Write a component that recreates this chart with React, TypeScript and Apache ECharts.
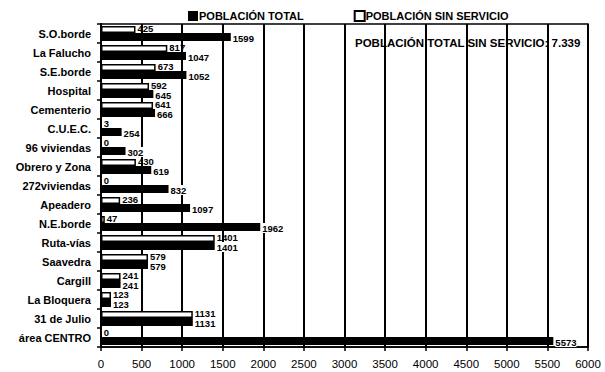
import React, { useEffect, useRef } from "react";
import * as echarts from "echarts";

const categories = [
  "S.O.borde", "La Falucho", "S.E.borde", "Hospital", "Cementerio", "C.U.E.C.",
  "96 viviendas", "Obrero y Zona", "272viviendas", "Apeadero", "N.E.borde",
  "Ruta-vías", "Saavedra", "Cargill", "La Bloquera", "31 de Julio", "área CENTRO",
];
const sinServicio = [425, 817, 673, 592, 641, 3, 0, 430, 0, 236, 47, 1401, 579, 241, 123, 1131, 0];
const total = [1599, 1047, 1052, 645, 666, 254, 302, 619, 832, 1097, 1962, 1401, 579, 241, 123, 1131, 5573];
const xTicks = { min: 0, max: 6000, interval: 500 };
const note = "POBLACIÓN TOTAL SIN SERVICIO: 7.339";

export default function App() {
  const ref = useRef<HTMLDivElement>(null);
  useEffect(() => {
    if (!ref.current) return;
    const chart = echarts.init(ref.current, null, { renderer: "svg" });
    const font = "Liberation Sans, Arial, sans-serif";
    const lbl = {
      show: true,
      position: "right" as const,
      distance: 2,
      color: "#000",
      fontFamily: font,
      fontWeight: "bold" as const,
      fontSize: 9.5,
    };
    chart.setOption({
      animation: false,
      backgroundColor: "#fff",
      textStyle: { fontFamily: font },
      legend: {
        top: 5,
        left: 183,
        itemWidth: 10,
        itemHeight: 10,
        itemGap: 50,
        textStyle: { fontFamily: font, fontWeight: "bold", fontSize: 11, color: "#000", padding: [0, 0, 0, -4] },
        data: [
          { name: "POBLACIÓN TOTAL", icon: "rect" },
          { name: "POBLACIÓN SIN SERVICIO", icon: "rect" },
        ],
        selectedMode: false,
      },
      grid: {
        left: 101,
        right: 17,
        top: 24,
        bottom: 25,
        show: true,
        borderColor: "#000",
        borderWidth: 1.5,
      },
      xAxis: {
        type: "value",
        min: xTicks.min,
        max: xTicks.max,
        interval: xTicks.interval,
        axisLine: { show: true, lineStyle: { color: "#000", width: 1.5 } },
        axisTick: { show: true, length: 4, lineStyle: { color: "#000", width: 1.5 } },
        axisLabel: {
          color: "#000",
          fontFamily: font,
          fontSize: 11.5,
          margin: 11,
          formatter: (v: number) => String(v),
        },
        splitLine: { show: true, lineStyle: { color: "#000", width: 2 } },
      },
      yAxis: {
        type: "category",
        inverse: true,
        data: categories,
        axisLine: { show: true, lineStyle: { color: "#000", width: 2 } },
        axisTick: { show: true, length: 4, lineStyle: { color: "#000", width: 1.5 } },
        axisLabel: { color: "#000", fontFamily: font, fontWeight: "bold", fontSize: 11, margin: 10 },
      },
      graphic: [
        {
          type: "text",
          left: 355,
          top: 37,
          style: { text: note, fill: "#000", font: `bold 11.5px ${font}` },
          z: 100,
        },
      ],
      series: [
        {
          name: "POBLACIÓN SIN SERVICIO",
          type: "bar",
          data: sinServicio,
          barWidth: 7,
          barGap: "0%",
          itemStyle: { color: "#fff", borderColor: "#000", borderWidth: 1.5 },
          label: { ...lbl, offset: [0, -1] },
        },
        {
          name: "POBLACIÓN TOTAL",
          type: "bar",
          data: total,
          barWidth: 8,
          barGap: "0%",
          itemStyle: { color: "#000" },
          label: { ...lbl, offset: [0, 1], backgroundColor: "#fff" },
        },
      ],
    });
    return () => chart.dispose();
  }, []);
  return <div ref={ref} style={{ width: 605, height: 372, position: "absolute", left: 0, top: 0 }} />;
}
